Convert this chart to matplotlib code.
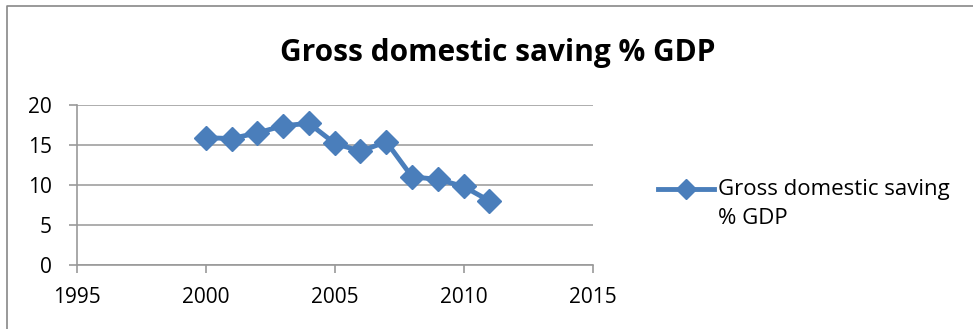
import matplotlib.pyplot as plt
from matplotlib.lines import Line2D

# Data
years = [2000, 2001, 2002, 2003, 2004, 2005, 2006, 2007, 2008, 2009, 2010, 2011]
saving = [15.9, 15.8, 16.5, 17.4, 17.7, 15.2, 14.2, 15.4, 11.0, 10.7, 9.8, 8.0]
series_name = 'Gross domestic saving % GDP'

plt.rcParams['font.family'] = ['Open Sans', 'DejaVu Sans']

fig = plt.figure(figsize=(9.73, 3.29), dpi=100)
ax = fig.add_axes([0.079, 0.195, 0.530, 0.486])

blue = '#4A7EBB'
ax.plot(years, saving, color=blue, lw=3.5, marker='D', markersize=12,
        clip_on=False)

ax.set_xlim(1995, 2015)
ax.set_ylim(0, 20)
ax.set_xticks([1995, 2000, 2005, 2010, 2015])
ax.set_yticks([0, 5, 10, 15, 20])
ax.grid(axis='y', color='#A0A0A0', lw=1.2)
ax.set_axisbelow(True)
for side in ['top', 'right']:
    ax.spines[side].set_visible(False)
for side in ['left', 'bottom']:
    ax.spines[side].set_color('#999999')
    ax.spines[side].set_linewidth(1.2)
ax.tick_params(colors='#999999', labelcolor='black', labelsize=15,
               length=6, width=1.2)
ax.tick_params(axis='x', pad=10)
ax.tick_params(axis='y', pad=12)

fig.text(0.512, 0.84, series_name, ha='center', va='center',
         fontsize=21.5, fontweight='bold')

# legend on the right, handle level with the first text line
y1 = 1 - 189 / 329
fig.add_artist(Line2D([658 / 973, 686 / 973, 714 / 973], [y1, y1, y1],
                      transform=fig.transFigure, color=blue, lw=3.5,
                      marker='D', markersize=10, markevery=[1]))
fig.text(718 / 973, y1, 'Gross domestic saving', ha='left', va='center', fontsize=16)
fig.text(718 / 973, 1 - 218 / 329, '% GDP', ha='left', va='center', fontsize=16)

# outer chart border (right and bottom edges fall outside the picture)
fig.add_artist(Line2D([7 / 973, 7 / 973, 1.0], [0.0, 1 - 6 / 329, 1 - 6 / 329],
                      transform=fig.transFigure, color='#888888', lw=1.2))

fig.savefig('out.png', dpi=100)
